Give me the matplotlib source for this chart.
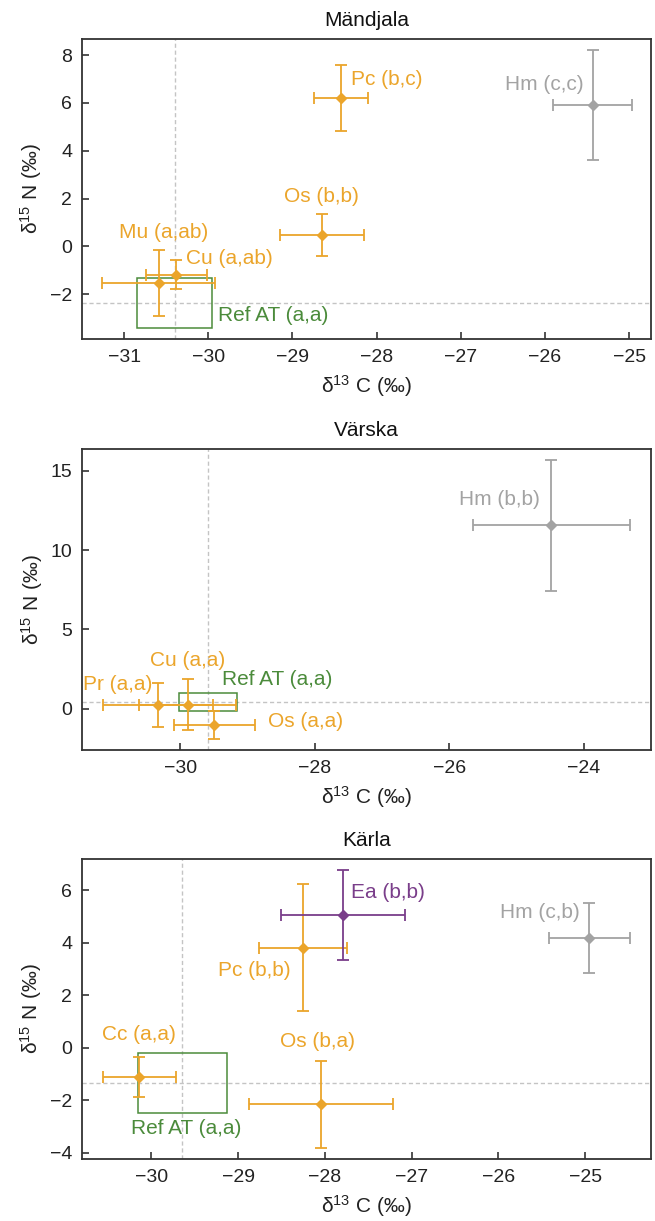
import matplotlib
matplotlib.use("Agg")
import matplotlib.pyplot as plt
from matplotlib.patches import Rectangle

plt.rcParams['font.family'] = ['Liberation Sans', 'DejaVu Sans']
plt.rcParams['mathtext.fontset'] = 'custom'
plt.rcParams['mathtext.rm'] = 'Liberation Sans'
plt.rcParams['mathtext.it'] = 'Liberation Sans:italic'

# ---------------- data ----------------
titles = ["Mändjala", "Värska", "Kärla"]

# Mändjala
m_names = ["Pc (b,c)", "Hm (c,c)", "Os (b,b)", "Mu (a,ab)", "Cu (a,ab)"]
m_x = [-28.42, -25.43, -28.65, -30.59, -30.38]
m_xerr = [0.32, 0.47, 0.50, 0.67, 0.36]
m_y = [6.22, 5.90, 0.47, -1.53, -1.18]
m_yerr = [1.38, 2.29, 0.87, 1.36, 0.62]
m_group = ["o", "g", "o", "o", "o"]
m_ref = (-30.40, -2.37, 0.445, 1.06)   # center x, center y, sd x, sd y

# Värska
v_names = ["Hm (b,b)", "Pr (a,a)", "Cu (a,a)", "Os (a,a)"]
v_x = [-24.48, -30.33, -29.89, -29.49]
v_xerr = [1.17, 0.82, 0.72, 0.60]
v_y = [11.55, 0.25, 0.25, -1.05]
v_yerr = [4.10, 1.40, 1.62, 0.88]
v_group = ["g", "o", "o", "o"]
v_ref = (-29.59, 0.43, 0.43, 0.58)

# Kärla
k_names = ["Pc (b,b)", "Ea (b,b)", "Hm (c,b)", "Cc (a,a)", "Os (b,a)"]
k_x = [-28.25, -27.79, -24.95, -30.14, -28.04]
k_xerr = [0.51, 0.71, 0.47, 0.42, 0.83]
k_y = [3.81, 5.05, 4.17, -1.11, -2.15]
k_yerr = [2.41, 1.72, 1.34, 0.77, 1.66]
k_group = ["o", "p", "g", "o", "o"]
k_ref = (-29.645, -1.345, 0.515, 1.155)

ref_label = "Ref AT (a,a)"

# ---------------- styles / layout ----------------
colors = {"o": "#EBA52B", "g": "#A3A3A3", "p": "#7A3E8A"}
ref_color = "#4B8B3B"
dash_color = "#C4C4C4"

# label anchor (x, y, ha) per point, and for ref label
m_lab = [(-28.30, 6.98, "left"), (-25.54, 6.77, "right"), (-28.65, 2.10, "center"),
         (-31.06, 0.59, "left"), (-30.26, -0.52, "left")]
m_reflab = (-29.89, -2.90)
v_lab = [(-24.65, 13.17, "right"), (-31.44, 1.52, "left"), (-30.45, 3.01, "left"),
         (-28.69, -0.80, "left")]
v_reflab = (-29.38, 1.85)
k_lab = [(-28.39, 2.96, "right"), (-27.70, 5.92, "left"), (-25.06, 5.14, "right"),
         (-30.57, 0.51, "left"), (-28.08, 0.25, "center")]
k_reflab = (-30.23, -3.08)

xlims = [(-31.50, -24.74), (-31.46, -23.00), (-30.80, -24.24)]
ylims = [(-3.87, 8.67), (-2.60, 16.37), (-4.24, 7.19)]
xticks = [[-31, -30, -29, -28, -27, -26, -25], [-30, -28, -26, -24],
          [-30, -29, -28, -27, -26, -25]]
yticks = [[-2, 0, 2, 4, 6, 8], [0, 5, 10, 15], [-4, -2, 0, 2, 4, 6]]

panels = [
    (m_names, m_x, m_xerr, m_y, m_yerr, m_group, m_ref, m_lab, m_reflab),
    (v_names, v_x, v_xerr, v_y, v_yerr, v_group, v_ref, v_lab, v_reflab),
    (k_names, k_x, k_xerr, k_y, k_yerr, k_group, k_ref, k_lab, k_reflab),
]

W, H = 655, 1221
fig = plt.figure(figsize=(W / 100, H / 100), dpi=100)
frames = [(39, 339), (449, 750), (859, 1159)]
left_px, right_px = 82, 651

FS_LAB = 15
FS_TICK = 14
for i, (names, xs, xe, ys, ye, grp, ref, labs, reflab) in enumerate(panels):
    top, bot = frames[i]
    ax = fig.add_axes([left_px / W, 1 - bot / H, (right_px - left_px) / W, (bot - top) / H])
    cx, cy, sx, sy = ref
    ax.axvline(cx, color=dash_color, lw=1.0, ls=(0, (3, 2)), zorder=1)
    ax.axhline(cy, color=dash_color, lw=1.0, ls=(0, (3, 2)), zorder=1)
    ax.add_patch(Rectangle((cx - sx, cy - sy), 2 * sx, 2 * sy, fill=False,
                           edgecolor=ref_color, lw=1.1, zorder=2))
    ax.text(reflab[0], reflab[1], ref_label, color=ref_color, fontsize=FS_LAB,
            ha="left", va="center")
    for n, x, dx, y, dy, g, lab in zip(names, xs, xe, ys, ye, grp, labs):
        c = colors[g]
        ax.errorbar(x, y, xerr=dx, yerr=dy, fmt="D", color=c, ecolor=c,
                    markersize=5, elinewidth=1.3, capsize=4, capthick=1.3, zorder=3)
        ax.text(lab[0], lab[1], n, color=c, fontsize=FS_LAB, ha=lab[2], va="center")
    ax.set_xlim(*xlims[i])
    ax.set_ylim(*ylims[i])
    ax.set_xticks(xticks[i])
    ax.set_yticks(yticks[i])
    ax.set_xticklabels([f"\u2212{abs(t)}" if t < 0 else str(t) for t in xticks[i]])
    ax.set_yticklabels([f"\u2212{abs(t)}" if t < 0 else str(t) for t in yticks[i]])
    ax.tick_params(direction="in", length=5, width=1.1, labelsize=FS_TICK, pad=7,
                   colors="#222222", top=False, right=False)
    for s in ax.spines.values():
        s.set_linewidth(1.3)
        s.set_color("#333333")
    ax.set_title(titles[i], fontsize=FS_LAB, pad=9, color="#111111")
    ax.set_xlabel("δ$^{13}$ C (‰)", fontsize=FS_LAB, labelpad=5, color="#222222")
    ax.set_ylabel("δ$^{15}$ N (‰)", fontsize=FS_LAB, labelpad=4, color="#222222")

fig.savefig("out.png", dpi=100)
